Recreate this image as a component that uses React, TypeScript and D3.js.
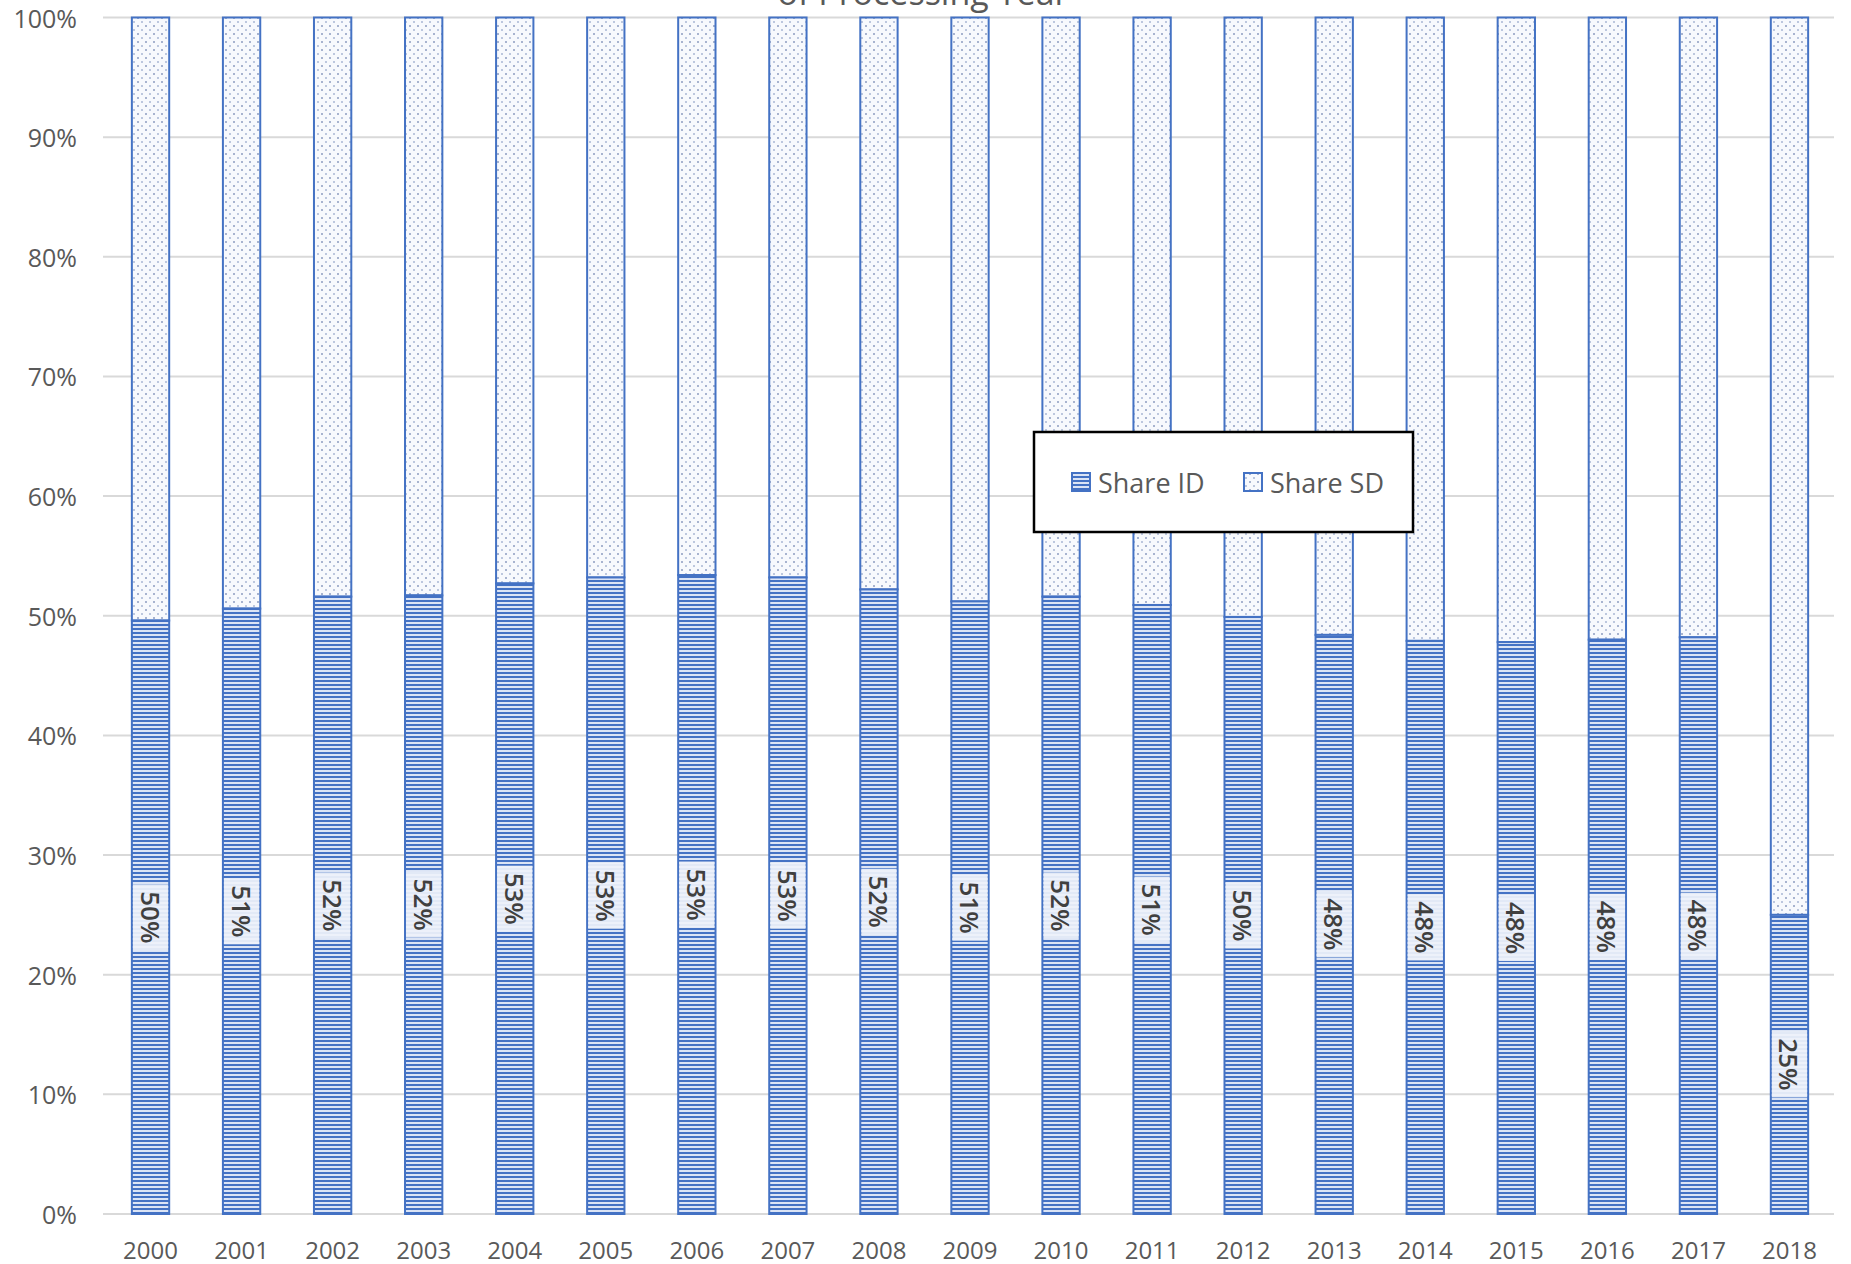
import React from "react";
import * as d3 from "d3";

// Share of ID by processing year (remainder is SD)
const years: string[] = [
  "2000", "2001", "2002", "2003", "2004", "2005", "2006", "2007", "2008", "2009",
  "2010", "2011", "2012", "2013", "2014", "2015", "2016", "2017", "2018",
];
const shareID: number[] = [
  0.496, 0.506, 0.516, 0.517, 0.527, 0.532, 0.534, 0.532, 0.522, 0.512,
  0.516, 0.509, 0.499, 0.484, 0.479, 0.478, 0.48, 0.482, 0.25,
];
const yTicks: number[] = [0, 0.1, 0.2, 0.3, 0.4, 0.5, 0.6, 0.7, 0.8, 0.9, 1];
const seriesNames: string[] = ["Share ID", "Share SD"];
const titleText = "of Processing Year";

const W = 1851;
const H = 1264;
const BLUE = "#4472C4";
const FONT = "'Open Sans', 'Noto Sans', sans-serif";

export default function App() {
  const x = d3
    .scaleBand<string>()
    .domain(years)
    .range([105, 1835])
    .paddingInner(0.59)
    .paddingOuter(0.295);
  const y = d3.scaleLinear().domain([0, 1]).range([1214, 17.5]);
  const pct = d3.format(".0%");
  const bw = x.bandwidth();

  return (
    <svg
      width={W}
      height={H}
      style={{ position: "absolute", left: 0, top: 0, background: "#fff" }}
      fontFamily={FONT}
    >
      <defs>
        <pattern id="hstripe" patternUnits="userSpaceOnUse" width={8} height={4}>
          <rect width={8} height={4} fill="#dbe4f5" />
          <rect width={8} height={2} fill={BLUE} />
        </pattern>
        <pattern id="dots" patternUnits="userSpaceOnUse" width={8} height={8}>
          <rect width={8} height={8} fill="#f7f9fd" />
          <circle cx={2} cy={2} r={1} fill="#8d9cc0" />
          <circle cx={6} cy={6} r={1} fill="#a9b6d4" />
        </pattern>
      </defs>

      {/* title, largely above the visible area */}
      <text x={923} y={5} textAnchor="middle" fontSize={34} fill="#595959">
        {titleText}
      </text>

      {/* gridlines */}
      {yTicks.map((t) => (
        <line
          key={t}
          x1={103}
          x2={1834}
          y1={y(t)}
          y2={y(t)}
          stroke="#d9d9d9"
          strokeWidth={2}
        />
      ))}

      {/* y tick labels */}
      {yTicks.map((t) => (
        <text
          key={"yl" + t}
          x={77}
          y={y(t)}
          textAnchor="end"
          dominantBaseline="central"
          fontSize={25}
          fill="#595959"
        >
          {pct(t)}
        </text>
      ))}

      {/* stacked bars */}
      {years.map((yr, i) => {
        const x0 = x(yr)!;
        const v = shareID[i];
        return (
          <g key={yr}>
            <rect
              x={x0}
              y={y(1)}
              width={bw}
              height={y(v) - y(1)}
              fill="url(#dots)"
              stroke={BLUE}
              strokeWidth={2}
            />
            <rect
              x={x0}
              y={y(v)}
              width={bw}
              height={y(0) - y(v)}
              fill="url(#hstripe)"
              stroke={BLUE}
              strokeWidth={2}
            />
          </g>
        );
      })}

      {/* data labels */}
      {years.map((yr, i) => {
        const cx = x(yr)! + bw / 2;
        const cy = y(shareID[i] / 2);
        const boxH = 66;
        return (
          <g key={"lab" + yr}>
            <rect
              x={x(yr)! + 1}
              y={cy - boxH / 2}
              width={bw - 2}
              height={boxH}
              fill="#eef2fa"
              opacity={0.93}
            />
            <text
              transform={`translate(${cx},${cy}) rotate(90)`}
              textAnchor="middle"
              dominantBaseline="central"
              fontSize={26}
              fontWeight={600}
              fill="#404040"
            >
              {pct(shareID[i])}
            </text>
          </g>
        );
      })}

      {/* x tick labels */}
      {years.map((yr) => (
        <text
          key={"xl" + yr}
          x={x(yr)! + bw / 2}
          y={1249}
          textAnchor="middle"
          dominantBaseline="central"
          fontSize={24}
          fill="#595959"
        >
          {yr}
        </text>
      ))}

      {/* legend */}
      <g>
        <rect
          x={1034}
          y={432}
          width={379}
          height={100}
          fill="#fff"
          stroke="#000"
          strokeWidth={2.5}
        />
        <rect x={1072} y={473} width={18} height={18} fill="url(#hstripe)" stroke={BLUE} strokeWidth={2} />
        <text x={1098} y={482} dominantBaseline="central" fontSize={27} fill="#595959">
          {seriesNames[0]}
        </text>
        <rect x={1244} y={473} width={18} height={18} fill="url(#dots)" stroke={BLUE} strokeWidth={2} />
        <text x={1270} y={482} dominantBaseline="central" fontSize={27} fill="#595959">
          {seriesNames[1]}
        </text>
      </g>
    </svg>
  );
}
